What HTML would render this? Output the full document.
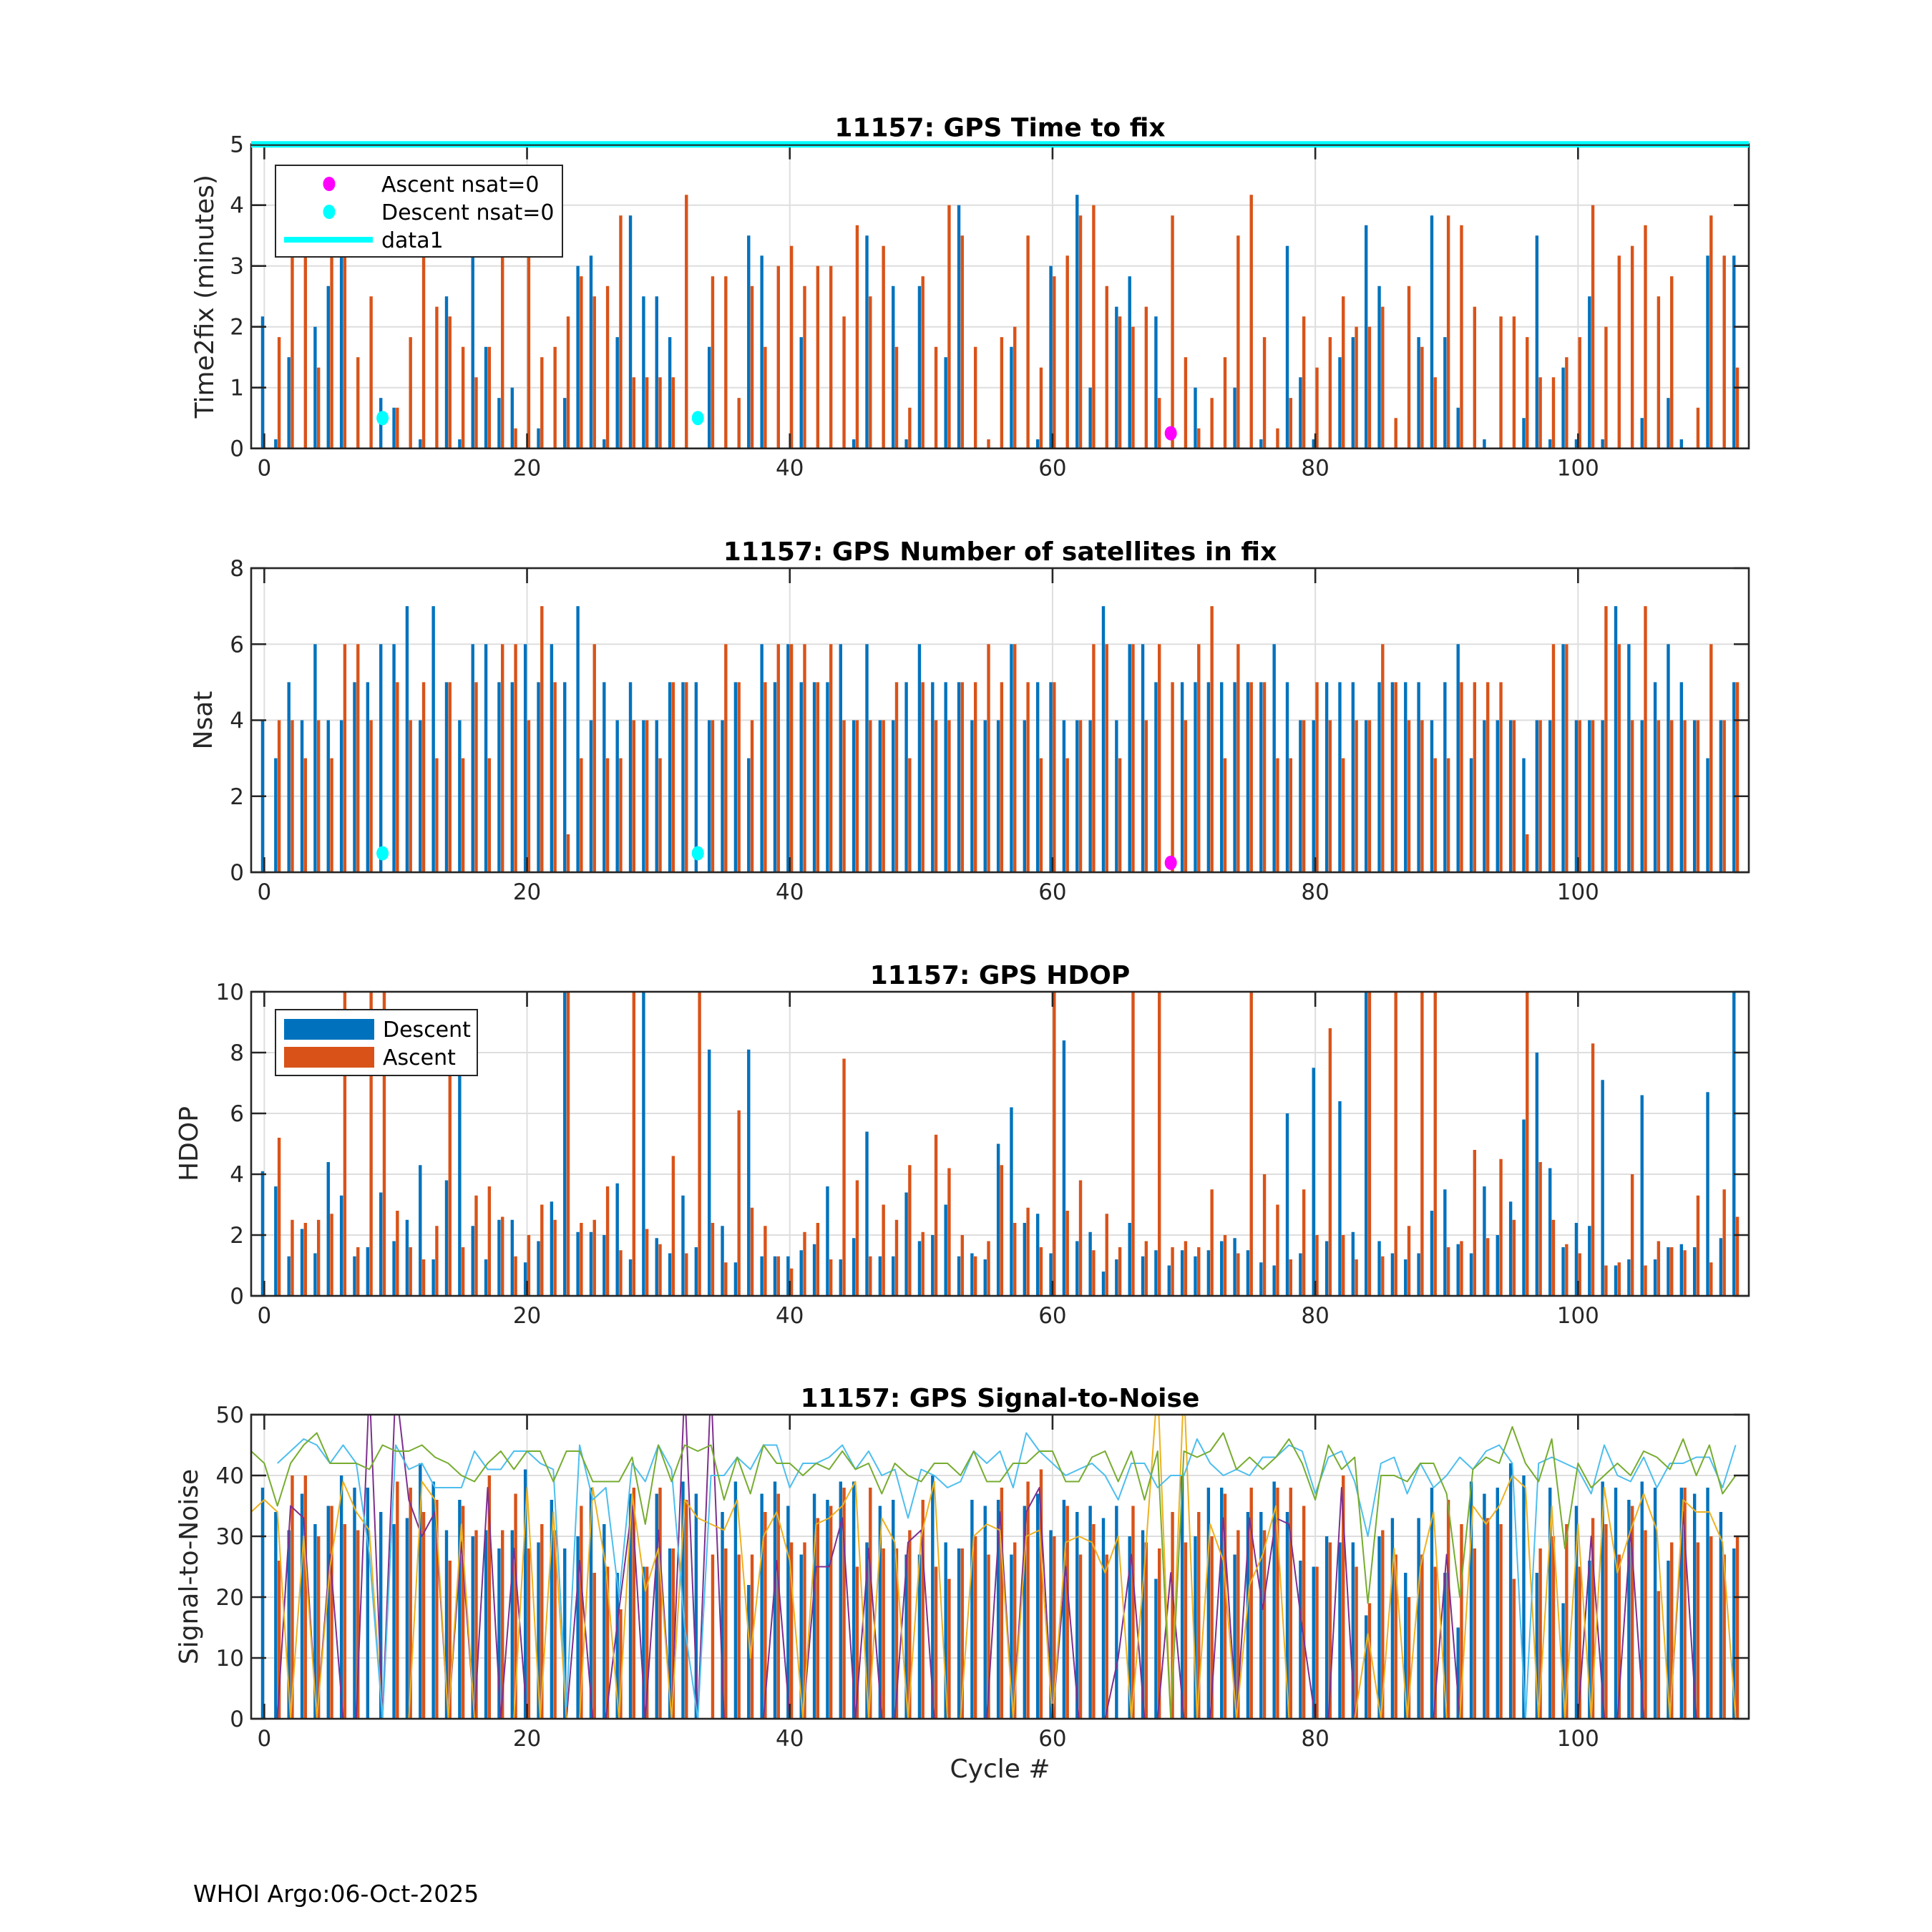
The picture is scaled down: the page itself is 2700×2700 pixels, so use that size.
<!DOCTYPE html>
<html><head><meta charset="utf-8"><title>11157 GPS diagnostics</title>
<style>
html,body{margin:0;padding:0;background:#fff;}
svg{display:block;}
</style></head>
<body>
<svg id="fig" xmlns="http://www.w3.org/2000/svg" width="2700" height="2700" viewBox="0 0 2700 2700">
<rect x="0" y="0" width="2700" height="2700" fill="#ffffff"/>
</svg>
<script>
// ---------- data ----------
const cycles = Array.from({length:113},(_, i)=>i);
const xTicks = [0,20,40,60,80,100];

const t2fDescent = [2.17,0.15,1.5,0,2.0,2.67,3.3,0,0,0.83, 0.67,0,0.15,0,2.5,0.15,3.3,1.67,0.83,1.0, 0,0.33,0,0.83,3.0,3.17,0.15,1.83,3.83,2.5, 2.5,1.83,0,0,1.67,0,0,3.5,3.17,0, 0,1.83,0,0,0,0.15,3.5,0,2.67,0.15, 2.67,0,1.5,4.0,0,0,0,1.67,0,0.15, 3.0,0,4.17,1.0,0,2.33,2.83,0,2.17,0, 0,1.0,0,0,1.0,0,0.15,0,3.33,1.17, 0.15,0,1.5,1.83,3.67,2.67,0,0,1.83,3.83, 1.83,0.67,0,0.15,0,0,0.5,3.5,0.15,1.33, 0.15,2.5,0.15,0,0,0.5,0,0.83,0.15,0, 3.17,0,3.17];
const t2fAscent = [0,1.83,3.8,3.5,1.33,3.5,3.3,1.5,2.5,0, 0.67,1.83,3.5,2.33,2.17,1.67,1.17,1.67,3.5,0.33, 3.5,1.5,1.67,2.17,2.83,2.5,2.67,3.83,1.17,1.17, 1.17,1.17,4.17,0,2.83,2.83,0.83,2.67,1.67,3.0, 3.33,2.67,3.0,3.0,2.17,3.67,2.5,3.33,1.67,0.67, 2.83,1.67,4.0,3.5,1.67,0.15,1.83,2.0,3.5,1.33, 2.83,3.17,3.83,4.0,2.67,2.17,2.0,2.33,0.83,3.83, 1.5,0.33,0.83,1.5,3.5,4.17,1.83,0.33,0.83,2.17, 1.33,1.83,2.5,2.0,2.0,2.33,0.5,2.67,1.67,1.17, 3.83,3.67,2.33,0,2.17,2.17,1.83,1.17,1.17,1.5, 1.83,4.0,2.0,3.17,3.33,3.67,2.5,2.83,0,0.67, 3.83,3.17,1.33];

const nsatDescent = [4,3,5,4,6,4,4,5,5,6, 6,7,4,7,5,4,6,6,5,5, 6,5,6,5,7,4,5,4,5,4, 4,5,5,5,4,4,5,3,6,5, 6,5,5,5,6,4,6,4,4,5, 6,5,5,5,4,4,4,6,4,5, 5,4,4,4,7,4,6,6,5,0, 5,5,5,5,5,5,5,6,5,4, 4,5,5,5,4,5,5,5,5,4, 5,6,3,4,4,4,3,4,4,6, 4,4,4,7,6,4,5,6,5,4, 3,4,5];
const nsatAscent = [0,4,4,3,4,3,6,6,4,0, 5,4,5,3,5,3,5,3,6,6, 4,7,5,1,3,6,3,3,4,4, 3,5,5,0,4,6,5,4,5,6, 6,6,5,6,4,4,4,4,5,3, 5,4,4,5,5,6,5,6,5,3, 5,3,4,6,6,3,6,4,6,5, 4,6,7,3,6,5,5,3,3,4, 5,4,3,4,4,6,5,4,4,3, 3,5,5,5,5,4,1,4,6,6, 4,4,7,6,4,7,4,4,4,4, 6,4,5];

const hdopDescent = [4.1,3.6,1.3,2.2,1.4,4.4,3.3,1.3,1.6,3.4, 1.8,2.5,4.3,1.2,3.8,7.5,2.3,1.2,2.5,2.5, 1.1,1.8,3.1,15,2.1,2.1,2.0,3.7,1.2,15, 1.9,1.4,3.3,1.6,8.1,2.3,1.1,8.1,1.3,1.3, 1.3,1.5,1.7,3.6,1.2,1.9,5.4,1.3,1.3,3.4, 1.8,2.0,3.0,1.3,1.4,1.2,5.0,6.2,2.4,2.7, 1.4,8.4,1.8,2.1,0.8,1.2,2.4,1.3,1.5,1.0, 1.5,1.3,1.5,1.8,1.9,1.5,1.1,1.0,6.0,1.4, 7.5,1.8,6.4,2.1,15,1.8,1.4,1.2,1.4,2.8, 3.5,1.7,1.4,3.6,2.0,3.1,5.8,8.0,4.2,1.6, 2.4,2.3,7.1,1.0,1.2,6.6,1.2,1.6,1.7,1.6, 6.7,1.9,15];
const hdopAscent = [0,5.2,2.5,2.4,2.5,2.7,15,1.6,15,15, 2.8,1.6,1.2,2.3,9.4,1.6,3.3,3.6,2.6,1.3, 2.0,3.0,2.5,15,2.4,2.5,3.6,1.5,15,2.2, 1.7,4.6,1.4,15,2.4,1.1,6.1,2.9,2.3,1.3, 0.9,2.1,2.4,1.2,7.8,3.8,1.3,3.0,2.5,4.3, 2.1,5.3,4.2,2.0,1.3,1.8,4.3,2.4,2.9,1.6, 15,2.8,3.8,1.5,2.7,1.6,15,1.8,15,1.6, 1.8,1.6,3.5,2.0,1.4,15,4.0,3.0,1.2,3.5, 2.0,8.8,2.0,1.2,15,1.3,15,2.3,15,15, 1.6,1.8,4.8,1.9,4.5,2.5,15,4.4,2.5,1.7, 1.4,8.3,1.0,1.1,4.0,1.0,1.8,1.6,1.5,3.3, 1.1,3.5,2.6];

const snrDescent = [38,34,31,37,32,35,40,38,38,34, 32,33,42,39,31,36,30,31,28,31, 41,29,36,28,30,38,32,24,37,25, 37,28,39,37,0,34,39,22,37,39, 35,27,37,36,39,39,29,35,36,27, 27,40,29,28,36,35,36,27,35,37, 31,36,34,35,33,35,30,31,23,0, 40,30,38,38,27,34,34,39,34,26, 25,30,29,29,17,30,33,24,33,38, 24,15,39,37,38,42,40,24,38,19, 35,26,39,38,36,39,38,26,38,37, 38,34,28];
const snrAscent = [0,26,40,40,30,35,32,31,0,0, 39,38,34,36,26,35,31,40,31,37, 28,32,31,0,35,24,25,18,38,25, 38,28,36,0,27,28,27,27,34,37, 29,29,33,35,38,25,38,28,28,31, 36,25,23,28,30,27,38,29,39,41, 30,35,27,32,27,0,35,29,28,34, 29,34,30,37,31,38,31,38,38,35, 25,29,40,25,19,31,27,20,27,25, 36,32,28,33,32,23,0,28,30,32, 25,33,32,27,35,31,21,29,38,29, 30,27,30];

// satellite SNR lines, first value at cycle -1
const snrLineStart = -1;
const snrGreen = [44,42,35,42,45,47,42,42,42,41, 45,44,44,45,43,42,40,39,42,44, 41,44,44,39,44,44,39,39,39,43, 32,45,39,45,44,45,36,43,37,45, 42,42, 40,42,41,44,41,42,37,42,40,39, 42,42,40,44,39,39,42,42,44,44, 39,39,43,44,39,44,36,44,0,44, 43,44,47,41,43,41,43, 46,42,36,45,41,43,19,40,40,39, 42,42,37,20,41,43,42,48,42,39, 46,28,42,38,40,42,40,44,43,41, 46,40,45,37,40];
const snrYellow = [34,36,34,0,30,0,25,39,34,31, 0,0,0,39,36,0,32,0,0,0, 0,38,0,34,0,0,38,25,0,37, 21,28,0,36,33,32,31,36,10,30, 34,26,0,32, 33,35,39,0,33,29,0,30,39,0, 0,30,32,31,0,30,31,0,29,30, 29,24,30,0,25,99,0,99,0,32, 26,0,22,27,35, 0,0,0,0,0,0,14,0,28,0, 25,34,0,0,35,32,35,40,38,0, 35,0,32,0,38,24,31,37,31,0, 36,34,34,29,0];
const snrCyan = [null,null, 42,44,46,45,42,45,42,27,0,45, 41,42,38,38,38,44,41,41,44,44, 42,41,2,45,36,38,20,42,39,45, 41,15,0,40,40,43,41,45,45,38, 42,42, 43,45,41,44,40,41,33,41,40,38, 39,44,42,44,38,47,44,42,40,41, 42,40,36,42,42,38,40,40,46,42, 40,41,40,43,43, 45,44,37,43,44,39,30,42,43,37, 42,38,40,43,41,44,45,42,0,42, 43,42,41,37,45,40,39,43,38,42, 42,43,43,38,45];
const snrPurple = [null,null, 0,35,33,0,27,0,0,99,0,99, 36,30,34,0,29,0,38,0,28,0, 0,0,0,26,0,0,18,35,0,31, 0,99,0,99,0,0,0,0,26,0, 0,25, 25,33,0,28,0,0,29,31,0,0, 0,0,0,34,0,34,38,0,25,0, 0,0,10,27,0,0,24,0,0,0, 33,0,33,18,33, 32,15,0,0,38,0,0,0,0,0, 0,0,27,0,0,0,0,0,0,0, 0,0,0,30,0,0,31,0,0,0, 34,0,0,0,0];

// nsat=0 markers
const descentZeroCycles = [9,33];
const ascentZeroCycles = [69];

// ---------- layout ----------
const NS='http://www.w3.org/2000/svg';
const svg=document.getElementById('fig');
const AX_L=351, AX_R=2444, XMIN=-1, XMAX=113;
const PANEL_H=425;
const C_BLUE='#0072BD', C_ORANGE='#D95319', C_YEL='#EDB120', C_PUR='#7E2F8E', C_GRN='#77AC30', C_CYN='#4DBEEE';
const FONT='"DejaVu Sans","Liberation Sans",sans-serif';
function xs(v){return AX_L+(v-XMIN)/(XMAX-XMIN)*(AX_R-AX_L);}
function mk(tag,attrs,parent){const e=document.createElementNS(NS,tag);for(const k in attrs)e.setAttribute(k,attrs[k]);(parent||svg).appendChild(e);return e;}
function txt(s,attrs,parent){const e=mk('text',attrs,parent);e.textContent=s;return e;}

function makePanel(id,top,ymax,ystep,title,ylabel,ylabX){
  const g=mk('g',{});
  
  
  const bot=top+PANEL_H;
  const ys=v=>bot-(v/ymax)*PANEL_H;
  const clipId='clip-'+id;
  const cp=mk('clipPath',{id:clipId},g);
  mk('rect',{x:AX_L,y:top,width:AX_R-AX_L,height:PANEL_H},cp);
  const grid=mk('g',{stroke:'#dedede','stroke-width':2},g);
  
  
  xTicks.forEach(t=>mk('line',{x1:xs(t),x2:xs(t),y1:top,y2:bot},grid));
  for(let v=ystep;v<ymax;v+=ystep) mk('line',{x1:AX_L,x2:AX_R,y1:ys(v),y2:ys(v)},grid);
  const plot=mk('g',{'clip-path':'url(#'+clipId+')'},g);
  
  
  return {g,plot,top,bot,ys,ymax,ystep,id,title,ylabel,ylabX};
}
function finishPanel(P){
  const {g,top,bot,ys,ymax,ystep,id}=P;
  const box=mk('rect',{x:AX_L,y:top,width:AX_R-AX_L,height:PANEL_H,fill:'none',stroke:'#262626','stroke-width':2.6},g);
  
  
  const tk=mk('g',{stroke:'#262626','stroke-width':2.6},g);
  
  
  xTicks.forEach(t=>{mk('line',{x1:xs(t),x2:xs(t),y1:bot,y2:bot-21},tk);mk('line',{x1:xs(t),x2:xs(t),y1:top,y2:top+21},tk);});
  for(let v=0;v<=ymax+1e-9;v+=ystep){mk('line',{x1:AX_L,x2:AX_L+21,y1:ys(v),y2:ys(v)},tk);mk('line',{x1:AX_R,x2:AX_R-21,y1:ys(v),y2:ys(v)},tk);}
  const xl=mk('g',{'font-family':FONT,'font-size':31,fill:'#262626','text-anchor':'middle'},g);
  
  
  xTicks.forEach(t=>txt(String(t),{x:xs(t),y:bot+38},xl));
  const yl=mk('g',{'font-family':FONT,'font-size':31,fill:'#262626','text-anchor':'end'},g);
  
  
  for(let v=0;v<=ymax+1e-9;v+=ystep) txt(String(Math.round(v)),{x:AX_L-10,y:ys(v)+11},yl);
  const tt=txt(P.title,{x:(AX_L+AX_R)/2,y:top-11,'font-family':FONT,'font-weight':'bold','font-size':36,'text-anchor':'middle',fill:'#000'},g);
  
  
  const yt=txt(P.ylabel,{x:0,y:0,'font-family':FONT,'font-size':36,'text-anchor':'middle',fill:'#262626',transform:'translate('+P.ylabX+','+((top+bot)/2)+') rotate(-90)'},g);
  
  
}
const BAR_W=4.4, OFF=0.13;
function drawBars(P,vals,off,color,name){
  const grp=mk('g',{fill:color},P.plot);
  
  
  vals.forEach((v,i)=>{
    if(!v) return;
    const x=xs(cycles[i]+off);
    const y=P.ys(Math.min(v,P.ymax*1.05));
    const r=mk('rect',{x:x-BAR_W/2,y:y,width:BAR_W,height:P.bot-y},grp);
    
    
  });
}
function drawLine(P,vals,start,color,name){
  let d='';let pen=false;
  vals.forEach((v,i)=>{
    if(v===null){pen=false;return;}
    const x=xs(start+i), y=P.ys(Math.min(v,P.ymax*1.1));
    d+=(pen?'L':'M')+x.toFixed(1)+' '+y.toFixed(1);pen=true;
  });
  const p=mk('path',{d:d,fill:'none',stroke:color,'stroke-width':2,'stroke-linejoin':'round'},P.plot);
  
  
}
function drawMarkers(P,cyc,val,color,name){
  cyc.forEach(c=>{
    const e=mk('ellipse',{cx:xs(c),cy:P.ys(val),rx:8.5,ry:10,fill:color},P.g);
    
    
  });
}

// ---------- panel 1 ----------
const P1=makePanel('time-to-fix',201.7,5,1,'11157: GPS Time to fix','Time2fix (minutes)',298);
drawBars(P1,t2fDescent,-OFF,C_BLUE,'time2fix-descent');
drawBars(P1,t2fAscent,OFF,C_ORANGE,'time2fix-ascent');
finishPanel(P1);
const d1=mk('line',{x1:AX_L,x2:AX_R,y1:P1.ys(5),y2:P1.ys(5),stroke:'#00FFFF','stroke-width':9});


mk('line',{x1:AX_L,x2:AX_R,y1:P1.ys(5)+1,y2:P1.ys(5)+1,stroke:'#262626','stroke-width':2});
drawMarkers(P1,descentZeroCycles,0.5,'#00FFFF','time2fix-descent-nsat0-marker');
drawMarkers(P1,ascentZeroCycles,0.25,'#FF00FF','time2fix-ascent-nsat0-marker');
(function(){
  const g=mk('g',{});
  
  
  mk('rect',{x:385,y:231,width:401,height:128,fill:'#fff',stroke:'#262626','stroke-width':2},g);
  const rows=[['Ascent nsat=0',257,'#FF00FF','dot'],['Descent nsat=0',296,'#00FFFF','dot'],['data1',335,'#00FFFF','line']];
  rows.forEach(r=>{
    const e=mk('g',{},g);
    
    
    if(r[3]==='dot') mk('ellipse',{cx:460,cy:r[1],rx:8.5,ry:10,fill:r[2]},e);
    else mk('rect',{x:397,y:r[1]-4,width:124,height:8,fill:r[2]},e);
    txt(r[0],{x:533,y:r[1]+11,'font-family':FONT,'font-size':30,fill:'#000'},e);
  });
})();

// ---------- panel 2 ----------
const P2=makePanel('nsat',794,8,2,'11157: GPS Number of satellites in fix','Nsat',296);
drawBars(P2,nsatDescent,-OFF,C_BLUE,'nsat-descent');
drawBars(P2,nsatAscent,OFF,C_ORANGE,'nsat-ascent');
finishPanel(P2);
drawMarkers(P2,descentZeroCycles,0.5,'#00FFFF','nsat-descent-zero-marker');
drawMarkers(P2,ascentZeroCycles,0.25,'#FF00FF','nsat-ascent-zero-marker');

// ---------- panel 3 ----------
const P3=makePanel('hdop',1386,10,2,'11157: GPS HDOP','HDOP',276);
drawBars(P3,hdopDescent,-OFF,C_BLUE,'hdop-descent');
drawBars(P3,hdopAscent,OFF,C_ORANGE,'hdop-ascent');
finishPanel(P3);
(function(){
  const g=mk('g',{});
  
  
  mk('rect',{x:385,y:1411,width:282,height:92,fill:'#fff',stroke:'#262626','stroke-width':2},g);
  [['Descent',1438,C_BLUE],['Ascent',1477,C_ORANGE]].forEach(r=>{
    const e=mk('g',{},g);
    
    
    mk('rect',{x:397,y:r[1]-14,width:126,height:29,fill:r[2]},e);
    txt(r[0],{x:535,y:r[1]+11,'font-family':FONT,'font-size':30,fill:'#000'},e);
  });
})();

// ---------- panel 4 ----------
const P4=makePanel('snr',1977,50,10,'11157: GPS Signal-to-Noise','Signal-to-Noise',276);
drawBars(P4,snrDescent,-OFF,C_BLUE,'snr-descent');
drawBars(P4,snrAscent,OFF,C_ORANGE,'snr-ascent');
drawLine(P4,snrPurple,snrLineStart,C_PUR,'snr-line-purple');
drawLine(P4,snrYellow,snrLineStart,C_YEL,'snr-line-yellow');
drawLine(P4,snrCyan,snrLineStart,C_CYN,'snr-line-lightblue');
drawLine(P4,snrGreen,snrLineStart,C_GRN,'snr-line-green');
finishPanel(P4);
const xlab=txt('Cycle #',{x:(AX_L+AX_R)/2,y:2484,'font-family':FONT,'font-size':36,'text-anchor':'middle',fill:'#262626'});


const foot=txt('WHOI Argo:06-Oct-2025',{x:270,y:2658,'font-family':FONT,'font-size':33,fill:'#000'});


</script>
</body></html>
